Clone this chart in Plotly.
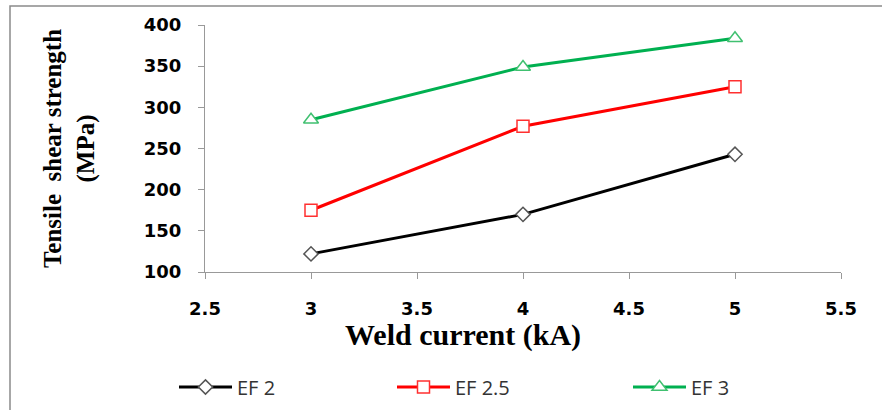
import plotly.graph_objects as go

weld_current = [3, 4, 5]
ef2 = [122, 170, 243]
ef25 = [175, 277, 325]
ef3 = [285, 349, 384]
series_names = ["EF 2", "EF 2.5", "EF 3"]

W, H = 882, 410
L, R, T, B = 205, 41, 25, 138
pw, ph = W - L - R, H - T - B

def px_x(x):
    return (x - L) / pw

def px_y(y):
    return (H - B - y) / ph

fig = go.Figure()
fig.add_trace(go.Scatter(
    x=weld_current, y=ef2, name=series_names[0], mode="lines+markers", legend="legend",
    line=dict(color="#000000", width=3),
    marker=dict(symbol="diamond", size=11, color="white", line=dict(color="#555555", width=1.5)),
))
fig.add_trace(go.Scatter(
    x=weld_current, y=ef25, name=series_names[1], mode="lines+markers", legend="legend2",
    line=dict(color="#FF0000", width=3),
    marker=dict(symbol="square", size=12, color="white", line=dict(color="#FF3030", width=1.5)),
))
fig.add_trace(go.Scatter(
    x=weld_current, y=ef3, name=series_names[2], mode="lines+markers", legend="legend3",
    line=dict(color="#00B050", width=3),
    marker=dict(symbol="triangle-up", size=13, color="white", line=dict(color="#40C070", width=1.5)),
))

axis_common = dict(
    showgrid=False, zeroline=False, showline=True, linecolor="#999999", linewidth=1,
    ticks="outside", ticklen=6, tickcolor="#999999",
    tickfont=dict(family="DejaVu Sans", size=18, color="#000000", weight="bold"),
)

def legend_at(xpx):
    return dict(
        orientation="h", x=px_x(xpx), y=px_y(387), xanchor="left", yanchor="middle",
        font=dict(family="Open Sans", size=20, color="#333333"),
        itemwidth=53, bgcolor="rgba(0,0,0,0)",
    )

fig.update_layout(
    width=W, height=H,
    margin=dict(l=L, r=R, t=T, b=B, autoexpand=False),
    paper_bgcolor="white", plot_bgcolor="white",
    xaxis=dict(
        range=[2.5, 5.5], tickvals=[2.5, 3, 3.5, 4, 4.5, 5, 5.5],
        ticktext=["2.5", "3", "3.5", "4", "4.5", "5", "5.5"],
        ticklabelstandoff=14,
        **axis_common,
    ),
    yaxis=dict(
        range=[100, 400], tickvals=[100, 150, 200, 250, 300, 350, 400],
        ticklabelstandoff=13,
        title=dict(text="Tensile\u00a0 shear strength<br>(MPa)", standoff=42,
                   font=dict(family="Liberation Serif", size=25, color="#000000", weight="bold")),
        **axis_common,
    ),
    showlegend=True,
    legend=legend_at(174),
    legend2=legend_at(392),
    legend3=legend_at(628),
    annotations=[dict(
        text="Weld current (kA)", xref="paper", yref="paper",
        x=px_x(463), y=px_y(335), xanchor="center", yanchor="middle", showarrow=False,
        font=dict(family="Liberation Serif", size=30, color="#000000", weight="bold"),
    )],
    shapes=[dict(
        type="rect", xref="paper", yref="paper",
        x0=px_x(10), x1=px_x(900), y0=px_y(430), y1=px_y(6),
        line=dict(color="#8a8a8a", width=1.5), fillcolor="rgba(0,0,0,0)", layer="below",
    )],
)

fig.write_html("out.html", config={"displayModeBar": False},
               post_script="document.body.style.margin='0';document.body.style.padding='0';")
